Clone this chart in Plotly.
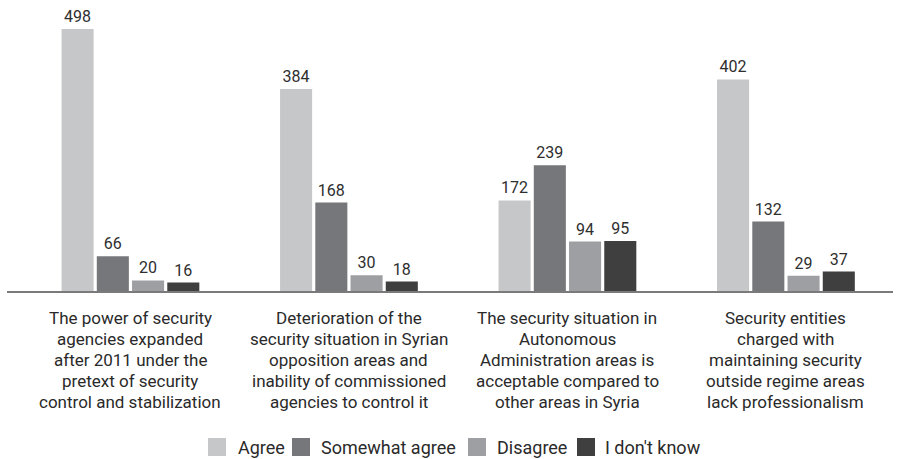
import plotly.graph_objects as go

categories = [
    "The power of security<br>agencies expanded<br>after 2011 under the<br>pretext of security<br>control and stabilization",
    "Deterioration of the<br>security situation in Syrian<br>opposition areas and<br>inability of commissioned<br>agencies to control it",
    "The security situation in<br>Autonomous<br>Administration areas is<br>acceptable compared to<br>other areas in Syria",
    "Security entities<br>charged with<br>maintaining security<br>outside regime areas<br>lack professionalism",
]
series_names = ["Agree", "Somewhat agree", "Disagree", "I don't know"]
agree = [498, 384, 172, 402]
somewhat_agree = [66, 168, 239, 132]
disagree = [20, 30, 94, 29]
dont_know = [16, 18, 95, 37]
colors = ["#c6c7c9", "#76777a", "#9e9fa2", "#3f3f3f"]

W, H = 900, 459
ML, MR, MT, MB = 7, 7, 10, 168
PW, PH = W - ML - MR, H - MT - MB


def px_x(x):
    return (x - ML) / PW


def px_y(y):
    return (H - MB - y) / PH


fig = go.Figure()
for name, vals, col in zip(series_names, [agree, somewhat_agree, disagree, dont_know], colors):
    fig.add_trace(go.Bar(
        x=list(range(len(categories))), y=vals, name=name,
        marker=dict(color=col, line=dict(width=0)),
        text=[str(v) for v in vals], textposition="outside",
        textfont=dict(family="Roboto", size=16, color="#2e2e2e"),
        cliponaxis=False, showlegend=False,
    ))

annotations = []
for i, cat in enumerate(categories):
    for j, line in enumerate(cat.split("<br>")):
        annotations.append(dict(
            x=i, xref="x", y=0, yref="y", yanchor="middle", xanchor="center",
            yshift=-(27 + 21 * j), text=line, showarrow=False,
            font=dict(family="Roboto", size=17, color="#2a2a2a"),
        ))

legend_swatch_x = [208, 292, 468, 577]
legend_text_x = [236, 319, 495, 603]
shapes = []
for name, col, sx, tx in zip(series_names, colors, legend_swatch_x, legend_text_x):
    shapes.append(dict(type="rect", xref="paper", yref="paper",
                       x0=px_x(sx), x1=px_x(sx + 18),
                       y0=px_y(456), y1=px_y(438),
                       fillcolor=col, line=dict(width=0)))
    annotations.append(dict(
        x=px_x(tx), xref="paper", xanchor="left",
        y=px_y(447), yref="paper", yanchor="middle",
        text=name, showarrow=False,
        font=dict(family="Roboto", size=18, color="#2a2a2a"),
    ))

fig.update_layout(
    width=W, height=H,
    margin=dict(l=ML, r=MR, t=MT, b=MB, autoexpand=False),
    paper_bgcolor="white", plot_bgcolor="white",
    barmode="group", bargap=0.355, bargroupgap=0.09,
    font=dict(family="Roboto", size=16, color="#222222"),
    showlegend=False,
    annotations=annotations, shapes=shapes,
    xaxis=dict(range=[-0.565, 3.49], showline=True, linecolor="#7a7a7a", linewidth=2,
               showgrid=False, zeroline=False, ticks="", showticklabels=False,
               automargin=False),
    yaxis=dict(range=[0, 534], visible=False, showgrid=False, zeroline=False,
               automargin=False),
)

fig.write_html("out.html", config={"displayModeBar": False},
               post_script="document.body.style.margin='0';")
